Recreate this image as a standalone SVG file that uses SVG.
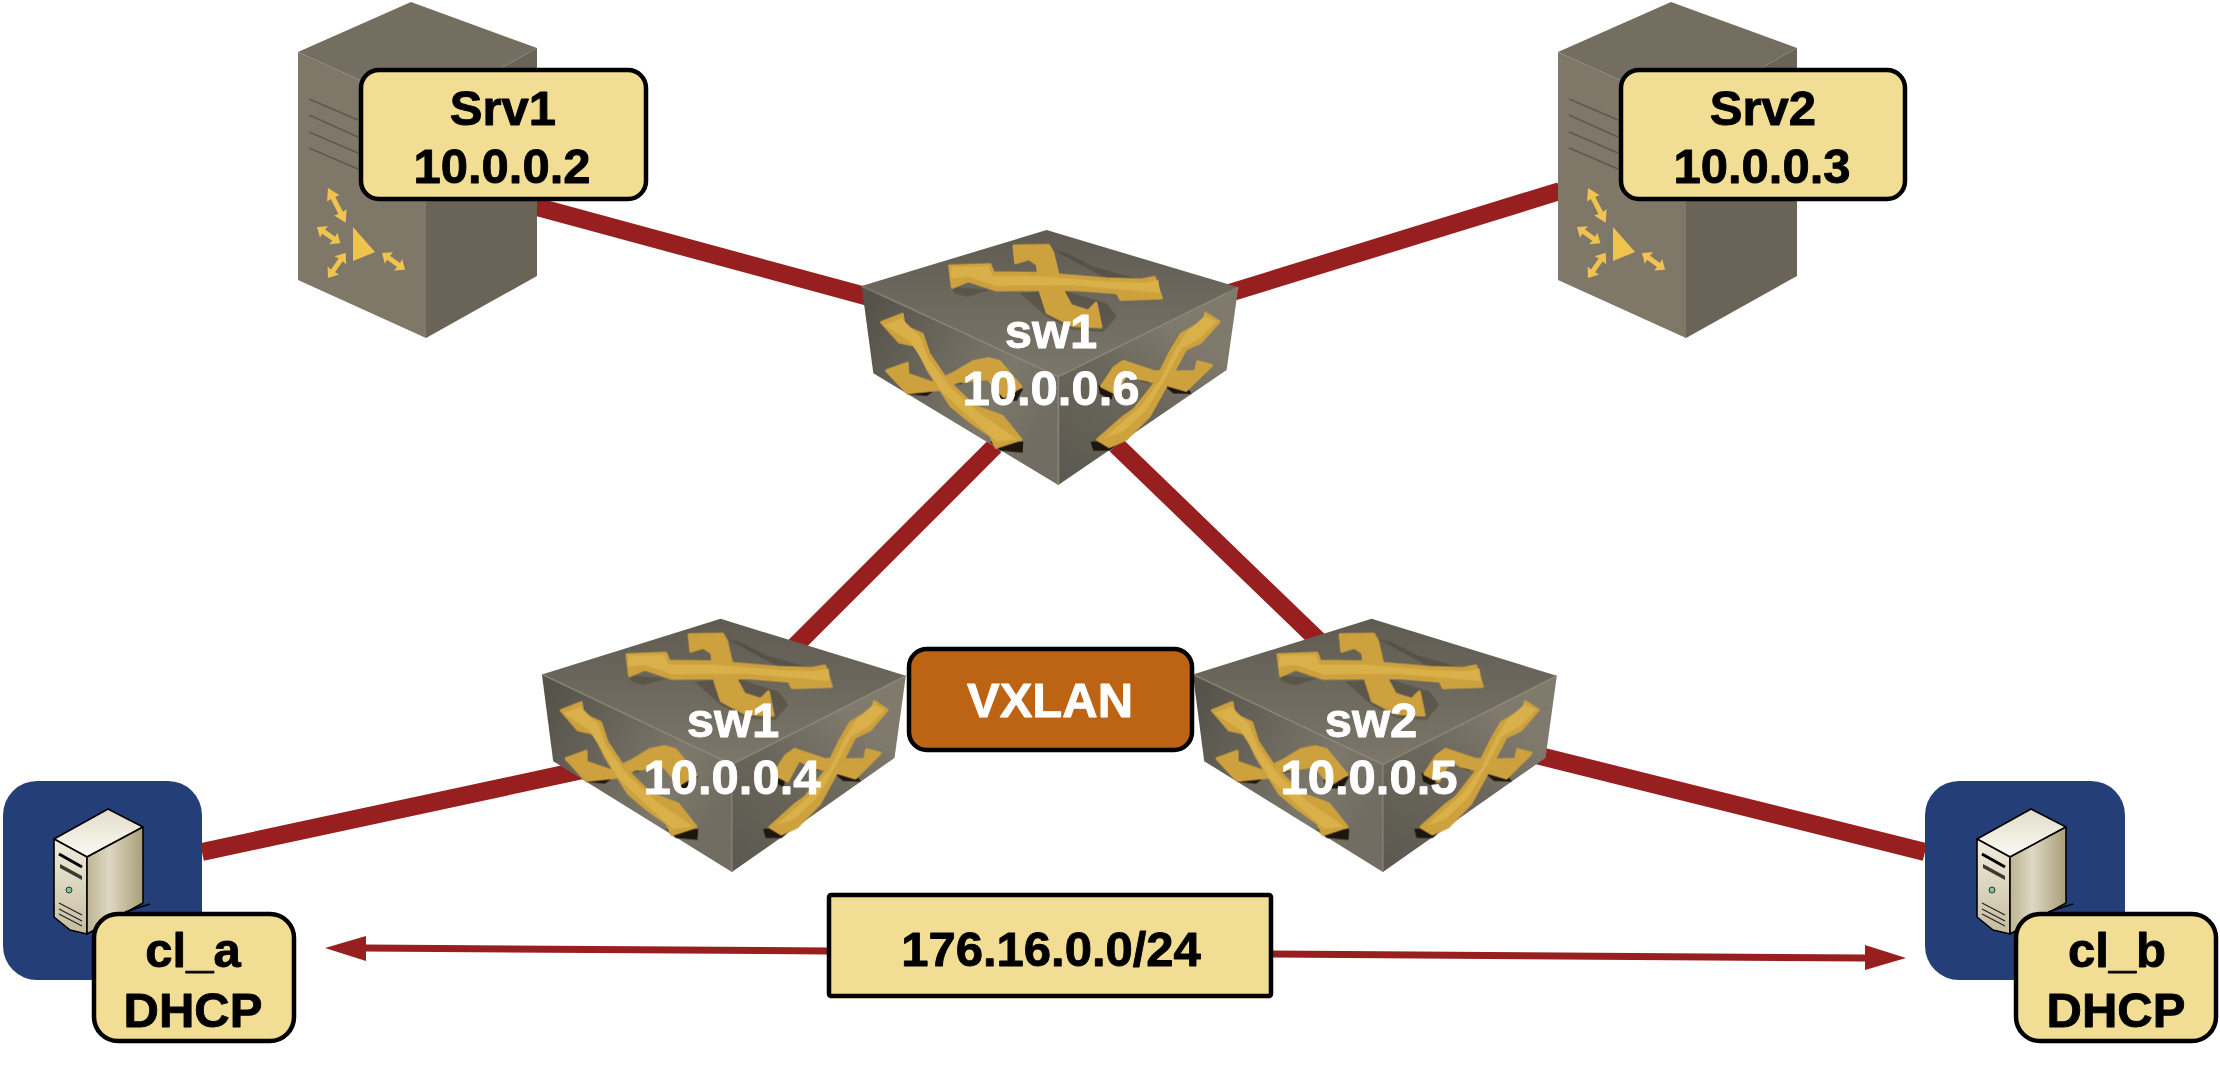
<svg xmlns="http://www.w3.org/2000/svg" width="2220" height="1070" viewBox="0 0 2220 1070">
<style>
text{font-family:"Liberation Sans",Arial,sans-serif;font-weight:700;font-size:49px;text-anchor:middle;stroke-width:.9;stroke-linejoin:round}
.dk{fill:#000;stroke:#000}.wh{fill:#fff;stroke:#fff}
.box{fill:#f1dd93;stroke:#000;stroke-width:4.5}
.orange{fill:#bd6414;stroke:#000;stroke-width:4.5}
.blue{fill:#243f78}
.link{stroke:#981f1f;stroke-width:18;fill:none}
.thin{stroke:#981f1f;stroke-width:7;fill:none}
.head{fill:#981f1f}
.vent{stroke:#5f5a4e;stroke-width:1.6;fill:none}
.ya{fill:#f0c34f}
.arm{fill:#cda13d;stroke:#cda13d;stroke-width:9;stroke-linejoin:round}
.arm2{fill:#d9b04a}
.shd{fill:#38342c;opacity:.35}
.blk{fill:#1d140c}
.seam{stroke:#8a8576;stroke-width:6;fill:none;opacity:.6}
.pc{stroke:#000;stroke-width:1.6;stroke-linejoin:round}
</style>
<defs>
<linearGradient id="gTop" x1="0" y1="0" x2="0" y2="1"><stop offset="0" stop-color="#5f5b51"/><stop offset="1" stop-color="#7c776a"/></linearGradient>
<linearGradient id="gLeft" gradientUnits="userSpaceOnUse" x1="70" y1="330" x2="620" y2="600"><stop offset="0" stop-color="#56534b"/><stop offset=".75" stop-color="#7d786b"/><stop offset="1" stop-color="#716d62"/></linearGradient>
<linearGradient id="gRight" gradientUnits="userSpaceOnUse" x1="680" y1="800" x2="1000" y2="340"><stop offset="0" stop-color="#5c5950"/><stop offset=".6" stop-color="#6b675c"/><stop offset="1" stop-color="#7f7a6c"/></linearGradient>
<linearGradient id="pcTop" x1="0" y1="0" x2="0" y2="1"><stop offset="0" stop-color="#e2dcc8"/><stop offset="1" stop-color="#fbfaf4"/></linearGradient>
<linearGradient id="pcFront" x1="0" y1="0" x2="0" y2="1"><stop offset="0" stop-color="#f1ecdd"/><stop offset="1" stop-color="#c6bd9f"/></linearGradient>
<linearGradient id="pcSide" x1="0" y1="0" x2="1" y2="0"><stop offset="0" stop-color="#bdb493"/><stop offset=".4" stop-color="#ded7c2"/><stop offset="1" stop-color="#a89e79"/></linearGradient>
<filter id="soft" x="-5%" y="-5%" width="110%" height="110%"><feGaussianBlur stdDeviation="2"/></filter>
<path id="dbl" d="M0 0L9 -7 8.5 -2.5 21.5 -2.5 21 -7 30 0 21 7 21.5 2.5 8.5 2.5 9 7Z" class="ya"/>
<g id="srv">
<polygon points="298,52 411,2 537,48 426,110" fill="#736e60"/>
<polygon points="298,52 426,110 426,338 298,280" fill="#7f7869"/>
<polygon points="537,48 426,110 426,338 537,276" fill="#6a6357"/>
<g class="vent"><path d="M309,99L358,120M309,115L358,137M309,132L358,153M309,148L358,169"/></g>
<polygon points="353,227 353,261 375,252" class="ya"/>
<use href="#dbl" transform="translate(328 188) rotate(63) scale(1.3 1)"/>
<use href="#dbl" transform="translate(317 227) rotate(35) scale(.95 1)"/>
<use href="#dbl" transform="translate(328 278) rotate(-55) scale(1.03 1)"/>
<use href="#dbl" transform="translate(382 253) rotate(36) scale(.95 1)"/>
</g>
<g id="sw">
<polygon points="620,60 1195,232 655,500 65,228" fill="url(#gTop)"/>
<polygon points="65,228 655,500 655,825 100,490" fill="url(#gLeft)"/>
<polygon points="1195,232 655,500 655,825 1160,480" fill="url(#gRight)"/>
<path class="seam" d="M65 228L655 500 1195 232M655 500V825" filter="url(#soft)"/>
<g filter="url(#soft)">
<polygon class="shd" points="540,250 620,320 700,360 790,365 830,320 800,280 700,250 670,240"/>
<polygon class="shd" points="640,120 790,200 905,210 760,170 680,130"/>
<polygon class="shd" points="330,230 450,240 380,260 345,250"/>
<polygon class="blk" points="450,695 550,695 548,728 480,722"/>
<polygon class="blk" points="752,695 845,690 810,722 760,722"/>
<polygon class="blk" points="195,540 300,530 260,558 200,552"/>
<polygon class="blk" points="470,545 550,535 530,572 480,572"/>
<polygon class="blk" points="775,525 820,545 815,568 780,552"/>
<polygon class="blk" points="970,525 1040,530 1055,552 1000,550"/>
<polygon class="blk" points="335,505 380,495 365,522 345,522"/>
<polygon class="blk" points="890,490 940,500 925,518 900,512"/>
<polygon class="arm" points="329,168 450,164 460,188 600,190 800,207 905,210 943,202 964,264 842,268 832,248 700,238 470,240 385,212 337,232"/>
<polygon class="arm" points="522,108 626,106 638,127 663,232 693,287 745,303 768,280 783,351 697,346 622,308 602,248 592,163 567,146 527,158"/>
<polygon class="arm2" points="335,170 445,168 458,198 600,198 800,214 915,218 955,210 960,248 835,238 700,226 470,228 385,200 330,205"/>
<polygon class="arm" points="125,337 187,313 192,348 247,373 267,432 322,512 402,588 487,619 543,688 468,712 452,677 392,636 332,586 263,478 228,406 178,396"/>
<polygon class="arm" points="140,482 202,460 203,493 280,519 342,489 402,454 445,446 478,454 543,530 492,560 443,506 350,516 299,538 202,548"/>
<polygon class="arm" points="1137,335 1097,310 1092,334 1023,373 988,432 943,522 883,598 848,623 773,689 808,710 857,689 927,619 997,493 1037,417 1083,396"/>
<polygon class="arm" points="1115,466 1073,455 1067,484 1000,486 940,484 850,454 822,473 785,529 828,550 863,486 900,506 970,521 1038,541"/>
<polygon class="arm2" points="1130,335 1095,318 1040,365 1005,420 960,510 900,590 790,685 850,665 920,600 980,500 1025,415 1080,385"/>
<polygon class="arm2" points="130,345 185,325 240,380 265,445 335,535 420,610 535,688 470,695 370,605 300,540 240,440 210,395"/>
</g>
</g>
<g id="pc">
<polygon class="pc" points="108,809 143,827 87,857 54,839" fill="url(#pcTop)"/>
<path class="pc" d="M54 839L87 857V934L70 930 54 917Z" fill="url(#pcFront)"/>
<polygon class="pc" points="143,827 87,857 87,934 143,903" fill="url(#pcSide)"/>
<path d="M59 854L82 867" stroke="#000" stroke-width="3" fill="none"/>
<path d="M60 864L82 876V880L60 868Z" fill="#3a3a30"/>
<circle cx="69" cy="890" r="3" fill="#7fc0a0" stroke="#333" stroke-width="1"/>
<path d="M59 903L82 915M59 909L82 921M59 914L82 926" stroke="#222" stroke-width="1.2" fill="none"/>
<path d="M125 912L150 904" stroke="#000" stroke-width="1.5" fill="none"/>
</g>
</defs>
<rect width="2220" height="1070" fill="#fff"/>
<g id="connectors">
<line class="link" x1="530" y1="205" x2="880" y2="300"/>
<line class="link" x1="1226" y1="294" x2="1560" y2="191"/>
<line class="link" x1="995" y1="446" x2="795" y2="646"/>
<line class="link" x1="1116" y1="445" x2="1320" y2="642"/>
<line class="link" x1="202" y1="852" x2="620" y2="762"/>
<line class="link" x1="1500" y1="746" x2="1925" y2="852"/>
<line class="thin" x1="366" y1="948" x2="828" y2="951"/>
<polygon class="head" points="325,948 366,936 366,961"/>
<line class="thin" x1="1272" y1="954" x2="1865" y2="958"/>
<polygon class="head" points="1906,958 1865,945 1865,970"/>
</g>
<g id="srv1"><use href="#srv"/><rect class="box" x="361" y="70" width="285" height="129" rx="18"/><text class="dk" x="503" y="125">Srv1</text><text class="dk" x="502" y="183">10.0.0.2</text></g>
<g id="srv2"><use href="#srv" x="1260"/><rect class="box" x="1621" y="70" width="284" height="129" rx="18"/><text class="dk" x="1763" y="125">Srv2</text><text class="dk" x="1762" y="183">10.0.0.3</text></g>
<g id="sw-top"><use href="#sw" transform="translate(840 210) scale(.3333)"/><text class="wh" x="1051" y="348">sw1</text><text class="wh" x="1051" y="405">10.0.0.6</text></g>
<g id="sw-left"><use href="#sw" transform="translate(521 599) scale(.322 .331)"/><text class="wh" x="733" y="737">sw1</text><text class="wh" x="732" y="794">10.0.0.4</text></g>
<g id="sw-right"><use href="#sw" transform="translate(1172 599) scale(.322 .331)"/><text class="wh" x="1371" y="737">sw2</text><text class="wh" x="1369" y="794">10.0.0.5</text></g>
<g id="vxlan"><rect class="orange" x="909" y="649" width="283" height="101" rx="18"/><text class="wh" x="1050" y="717">VXLAN</text></g>
<g id="cl_a"><rect class="blue" x="3" y="781" width="199" height="199" rx="34"/><use href="#pc"/><rect class="box" x="94" y="914" width="200" height="127" rx="24"/><text class="dk" x="193" y="967">cl_a</text><text class="dk" x="193" y="1027">DHCP</text></g>
<g id="cl_b"><rect class="blue" x="1925" y="781" width="200" height="199" rx="34"/><use href="#pc" x="1923"/><rect class="box" x="2016" y="914" width="200" height="127" rx="24"/><text class="dk" x="2117" y="967">cl_b</text><text class="dk" x="2116" y="1027">DHCP</text></g>
<g id="subnet"><rect class="box" x="829" y="895" width="442" height="101" rx="2"/><text class="dk" x="1051" y="966">176.16.0.0/24</text></g>
</svg>
